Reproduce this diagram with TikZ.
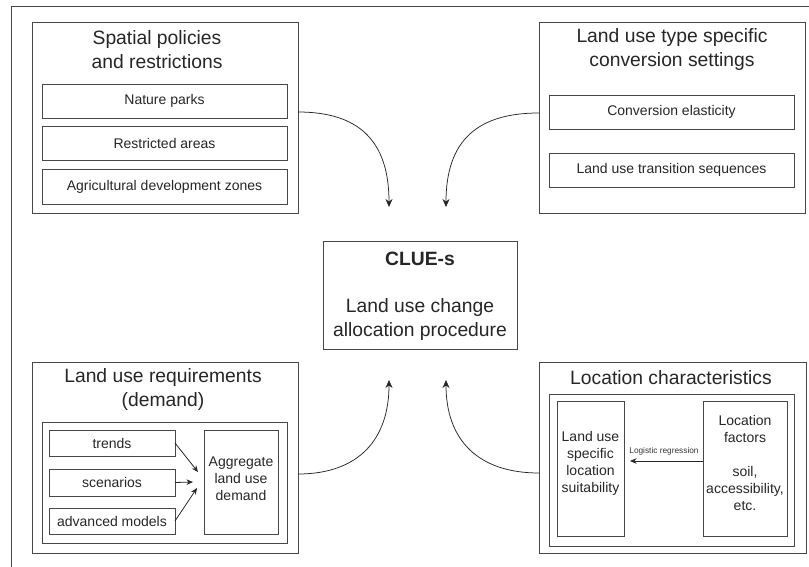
\documentclass[tikz,border=0pt]{standalone}
\usepackage{fontspec}
\setmainfont{Liberation Sans}
\usetikzlibrary{arrows.meta}
\begin{document}
\begin{tikzpicture}[x=1pt,y=-1pt,
  box/.style={draw=black!72, line width=0.9pt, inner sep=0pt, outer sep=0pt, anchor=north west, align=center, font=\fontsize{14}{17}\selectfont, text=black!85},
  bigtitle/.style={font=\fontsize{19.3}{24}\selectfont, align=center, text=black!85, inner sep=0pt},
  smalltxt/.style={font=\fontsize{14}{17}\selectfont, align=center, text=black!85, inner sep=0pt},
  arr/.style={draw=black!85, line width=0.75pt, -{Stealth[length=8pt,width=7pt]}},
  sarr/.style={draw=black!85, line width=0.8pt, -{Stealth[length=6.5pt,width=5.5pt]}},
]
\useasboundingbox (0,0) rectangle (809,567);
% outer frame
\draw[black!72, line width=0.9pt] (11,567) -- (11,6) -- (809,6);

% ---- top left
\node[box, minimum width=266pt, minimum height=191pt] (sp) at (32,22) {};
\node[bigtitle] (spt) at (157,50) {Spatial policies\\and restrictions};
\node[box, minimum width=245pt, minimum height=34pt] (np) at (42,84) {Nature parks};
\node[box, minimum width=245pt, minimum height=34pt] (ra) at (42,126) {Restricted areas};
\node[box, minimum width=245pt, minimum height=35pt] (ag) at (42,169) {Agricultural development zones};

% ---- top right
\node[box, minimum width=266pt, minimum height=191pt] (cs) at (539,22) {};
\node[bigtitle] (cst) at (672,50) {Land use type specific\\conversion settings};
\node[box, minimum width=245pt, minimum height=34pt] (ce) at (549,95) {Conversion elasticity};
\node[box, minimum width=245pt, minimum height=34pt] (lt) at (549,153) {Land use transition sequences};

% ---- centre
\node[box, minimum width=194pt, minimum height=108pt] (clue) at (323,241) {};
\node[bigtitle, font=\fontsize{19.3}{24}\selectfont\bfseries] (cluet) at (420,259) {CLUE-s};
\node[bigtitle] (cluet2) at (420,320) {Land use change\\allocation procedure};

% ---- bottom left
\node[box, minimum width=266pt, minimum height=191pt] (dm) at (32,362) {};
\node[bigtitle] (dmt) at (163,390) {Land use requirements\\(demand)};
\node[box, minimum width=245pt, minimum height=121pt] (dmi) at (42,422) {};
\node[box, minimum width=126pt, minimum height=26pt] (tr) at (49,430) {trends};
\node[box, minimum width=126pt, minimum height=27pt] (sc) at (49,469) {scenarios};
\node[box, minimum width=126pt, minimum height=26pt] (am) at (49,508) {advanced models};
\node[box, minimum width=74pt, minimum height=104pt] (agg) at (204,430) {};
\node[smalltxt] (aggt) at (241,479) {Aggregate\\land use\\demand};
\coordinate (d1) at (198,472);
\coordinate (d2) at (193,482);
\coordinate (d3) at (197,488);
\draw[sarr] (tr.east) -- (d1);
\draw[sarr] (sc.east) -- (d2);
\draw[sarr] (am.east) -- (d3);

% ---- bottom right
\node[box, minimum width=267pt, minimum height=191pt] (lc) at (539,362) {};
\node[bigtitle] (lct) at (671,378) {Location characteristics};
\node[box, minimum width=245pt, minimum height=152pt] (lci) at (549,394) {};
\node[box, minimum width=67pt, minimum height=135pt] (su) at (557,401) {};
\node[smalltxt] (sut) at (590.5,463) {Land use\\specific\\location\\suitability};
\node[box, minimum width=84pt, minimum height=135pt] (lf) at (703,401) {};
\node[smalltxt] (lft) at (745,463) {Location\\factors\\[17pt]soil,\\accessibility,\\etc.};
\coordinate (lr) at (630,461);
\draw[sarr, line width=0.7pt] (lf.west |- lr) -- (lr);
\node[font=\fontsize{8.3}{10}\selectfont, text=black!80, inner sep=0pt] (lrt) at (664,451) {Logistic regression};

% ---- curved connectors
\coordinate (a1) at (389,207);
\coordinate (a2) at (446,207);
\coordinate (a3) at (389,380);
\coordinate (a4) at (446,380);
\draw[arr] ([yshift=5.5pt]sp.east) .. controls (358,112) and (389,140) .. (a1);
\draw[arr] ([yshift=4.5pt]cs.west) .. controls (478,113) and (446,140) .. (a2);
\draw[arr] ([yshift=-16.5pt]dm.east) .. controls (358,474) and (389,440) .. (a3);
\draw[arr] ([yshift=-15.5pt]lc.west) .. controls (478,473) and (446,440) .. (a4);
\end{tikzpicture}
\end{document}
